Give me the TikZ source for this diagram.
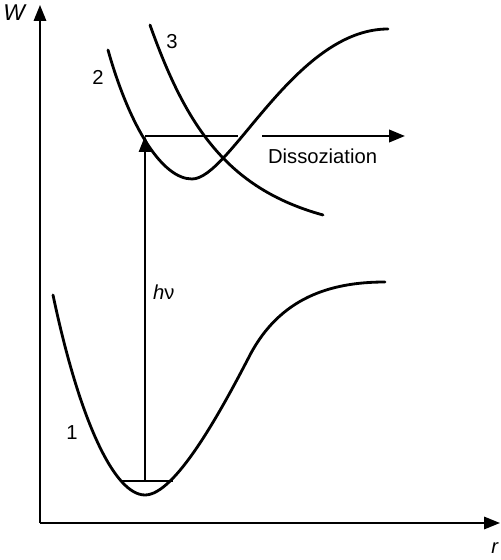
\documentclass[tikz,border=0pt]{standalone}
\usepackage{fontspec}
\setmainfont{Liberation Sans}
\usetikzlibrary{arrows.meta}
\tikzset{
  curve/.style={line width=1.6pt,line cap=round},
  axis/.style={line width=1.1pt,-{Triangle[length=9pt,width=7pt]}},
  level/.style={line width=1.4pt},
  lbl/.style={font=\fontsize{11.5}{14}\selectfont,inner sep=1pt}
}

\begin{document}
\begin{tikzpicture}
\useasboundingbox (-0.8,-0.74) rectangle (9.22,10.46);
% axes
\coordinate (O) at (0,0);
\coordinate (wtip) at (0,10.36);
\coordinate (rtip) at (9.2,0);
\draw[axis] (O) -- (wtip);
\draw[axis] (O) -- (rtip);
\node[lbl,font=\fontsize{13}{15}\selectfont] (W) at (-0.5,10.2) {\textit{W}};
\node[lbl] (r) at (9.1,-0.5) {\textit{r}};

% potential curves
\draw[curve] (0.26,4.56) .. controls (0.8,2.0) and (1.5,0.56) .. (2.1,0.56)
  .. controls (2.7,0.56) and (3.6,2.2) .. (4.2,3.36)
  .. controls (4.8,4.5) and (5.8,4.82) .. (6.9,4.82);
\draw[curve] (1.36,9.46) .. controls (1.8,7.9) and (2.45,6.88) .. (3.04,6.88)
  .. controls (3.8,6.88) and (5.1,9.88) .. (6.96,9.88);
\draw[curve] (2.2,9.96) .. controls (2.9,8.0) and (3.7,6.7) .. (5.66,6.16);
\node[lbl] (n1) at (0.64,1.8) {1};
\node[lbl] (n2) at (1.16,8.92) {2};
\node[lbl] (n3) at (2.64,9.62) {3};

% levels and excitation
\coordinate (v0l) at (1.64,0.84);
\coordinate (v0) at (2.1,0.84);
\coordinate (v0r) at (2.66,0.84);
\coordinate (ex) at (2.1,7.74);
\coordinate (exr) at (3.96,7.74);
\coordinate (dl) at (4.44,7.74);
\coordinate (dr) at (7.3,7.74);
\draw[level] (v0l) -- (v0r);
\draw[line width=0.6pt,-{Triangle[length=9pt,width=7pt]}] (v0) -- (ex);
\draw[level] (ex) -- (exr);
\draw[level,-{Triangle[length=9pt,width=7pt]}] (dl) -- (dr);
\node[lbl,anchor=west] (hnu) at (2.22,4.62) {\textit{h}ν};
\node[lbl,anchor=west] (diss) at (4.52,7.34) {Dissoziation};
\end{tikzpicture}
\end{document}
